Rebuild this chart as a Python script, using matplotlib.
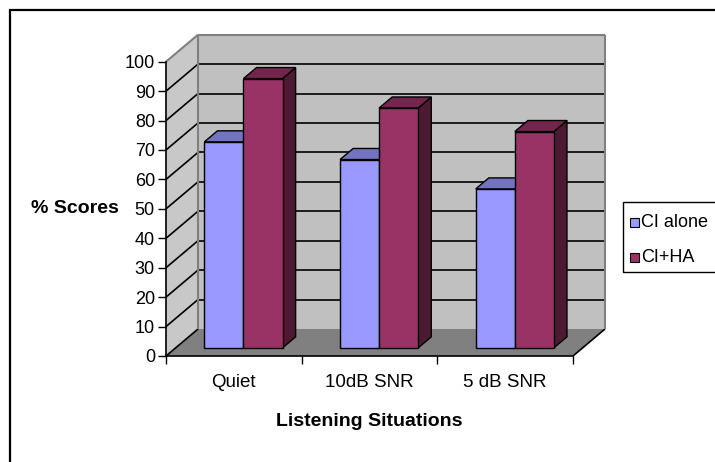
import matplotlib
matplotlib.use("Agg")
import matplotlib.pyplot as plt
from matplotlib.patches import Polygon, Rectangle

# ---- data -------------------------------------------------------------
categories = ["Quiet", "10dB SNR", "5 dB SNR"]
series_names = ["CI alone", "CI+HA"]
ci_alone = [70, 64, 54]
ci_ha = [91.5, 81.5, 73.5]
y_ticks = list(range(0, 101, 10))

# ---- style ------------------------------------------------------------
plt.rcParams["font.family"] = ["Liberation Sans", "DejaVu Sans"]

series_colors = {
    "CI alone": {"front": "#9999FF", "top": "#7373BF", "side": "#4D4D80"},
    "CI+HA": {"front": "#993366", "top": "#73264D", "side": "#4D1A33"},
}
series_values = {"CI alone": ci_alone, "CI+HA": ci_ha}

W, H, DPI = 715, 462, 100
fig = plt.figure(figsize=(W / DPI, H / DPI), dpi=DPI)
fig.patch.set_facecolor("white")


def fx(px):
    return px / W


def fy(py):
    return 1 - py / H


# front plane of the box (pixel extents)
L, R, B, T = 166, 573, 356, 61.7
ax = fig.add_axes([fx(L), fy(B), (R - L) / W, (B - T) / H])
ax.set_xlim(0, len(categories))
ax.set_ylim(0, 100)
ax.patch.set_visible(False)

# oblique depth of the box expressed in data units
px_per_cat = (R - L) / len(categories)
px_per_unit = (B - T) / 100
DEPTH_X = 32 / px_per_cat
DEPTH_Y = 27 / px_per_unit


def proj(x, v, d):
    return (x + d * DEPTH_X, v + d * DEPTH_Y)


def face(pts, fc, ec="black", lw=1.0, z=3):
    ax.add_patch(Polygon([proj(*p) for p in pts], closed=True, facecolor=fc,
                         edgecolor=ec, linewidth=lw, zorder=z, clip_on=False,
                         joinstyle="miter"))


def seg(p0, p1, color="black", lw=1.2, z=2):
    a, b = proj(*p0), proj(*p1)
    ax.plot([a[0], b[0]], [a[1], b[1]], color=color, lw=lw, zorder=z,
            clip_on=False, solid_capstyle="butt")


n = len(categories)
ymax = y_ticks[-1]

# walls and floor
face([(0, 0, 0), (0, 0, 1), (0, ymax, 1), (0, ymax, 0)], "#C8C8C8", ec="none", z=1)
face([(0, 0, 1), (n, 0, 1), (n, ymax, 1), (0, ymax, 1)], "#C0C0C0", ec="none", z=1)
face([(0, 0, 0), (n, 0, 0), (n, 0, 1), (0, 0, 1)], "#808080", ec="none", z=1)

# gridlines on back and side walls
for v in y_ticks[1:-1]:
    seg((0, v, 1), (n, v, 1))
    seg((0, v, 0), (0, v, 1))
seg((0, 0, 0), (0, 0, 1))
seg((n, 0, 0), (n, 0, 1))

# wall outlines
gray = "#808080"
seg((0, ymax, 0), (0, ymax, 1), color=gray, lw=1.5)
seg((0, ymax, 1), (n, ymax, 1), color=gray, lw=1.5)
seg((0, 0, 1), (0, ymax, 1), color=gray, lw=1.5)
seg((n, 0, 1), (n, ymax, 1), color=gray, lw=1.5)

# bars
bar_w = 0.288
gap = (1 - bar_w * len(series_names)) / 2
d0, d1 = 0.3, 0.71
z = 3
for i in range(n):
    for j, name in enumerate(series_names):
        v = series_values[name][i]
        c = series_colors[name]
        x0 = i + gap + j * bar_w
        x1 = x0 + bar_w
        face([(x1, 0, d0), (x1, 0, d1), (x1, v, d1), (x1, v, d0)], c["side"], z=z)
        face([(x0, v, d0), (x1, v, d0), (x1, v, d1), (x0, v, d1)], c["top"], z=z)
        face([(x0, 0, d0), (x1, 0, d0), (x1, v, d0), (x0, v, d0)], c["front"], z=z)
        z += 1

# axes
for s in ("top", "right"):
    ax.spines[s].set_visible(False)
for s in ("left", "bottom"):
    ax.spines[s].set_color("black")
    ax.spines[s].set_linewidth(1.2)
    ax.spines[s].set_zorder(20)

ax.set_yticks(y_ticks)
ax.set_yticklabels([str(t) for t in y_ticks])
ax.tick_params(axis="y", direction="out", length=6, width=1, labelsize=13, pad=2)

ax.set_xticks(range(n + 1))
ax.set_xticklabels([""] * (n + 1))
ax.set_xticks([i + 0.5 for i in range(n)], minor=True)
ax.set_xticklabels(categories, minor=True)
ax.tick_params(axis="x", which="major", direction="out", length=6, width=1)
ax.tick_params(axis="x", which="minor", length=0, labelsize=13.5, pad=13)

fig.text(fx(75), fy(209), "% Scores", ha="center", va="center",
         fontsize=14, fontweight="bold")
fig.text(fx(369), fy(421), "Listening Situations", ha="center", va="center",
         fontsize=14, fontweight="bold")

# legend box (runs past the right edge of the chart area)
box_l, box_t, box_b = 623, 202, 272
fig.add_artist(Rectangle((fx(box_l), fy(box_b)), 0.2, (box_b - box_t) / H,
                         transform=fig.transFigure, facecolor="white",
                         edgecolor="black", linewidth=1.0, zorder=5))
entry_y = [222, 257]
sq = 9
for name, yc in zip(series_names, entry_y):
    fig.add_artist(Rectangle((fx(630), fy(yc + sq / 2)), sq / W, sq / H,
                             transform=fig.transFigure,
                             facecolor=series_colors[name]["front"],
                             edgecolor="black", linewidth=0.8, zorder=6))
    fig.text(fx(641), fy(yc), name, ha="left", va="center", fontsize=13,
             zorder=7)

# outer chart border
fig.add_artist(Rectangle((fx(10), -0.1), 1.2, fy(10) + 0.1,
                         transform=fig.transFigure, fill=False,
                         edgecolor="black", linewidth=1.6))

fig.savefig("out.png", dpi=DPI)
